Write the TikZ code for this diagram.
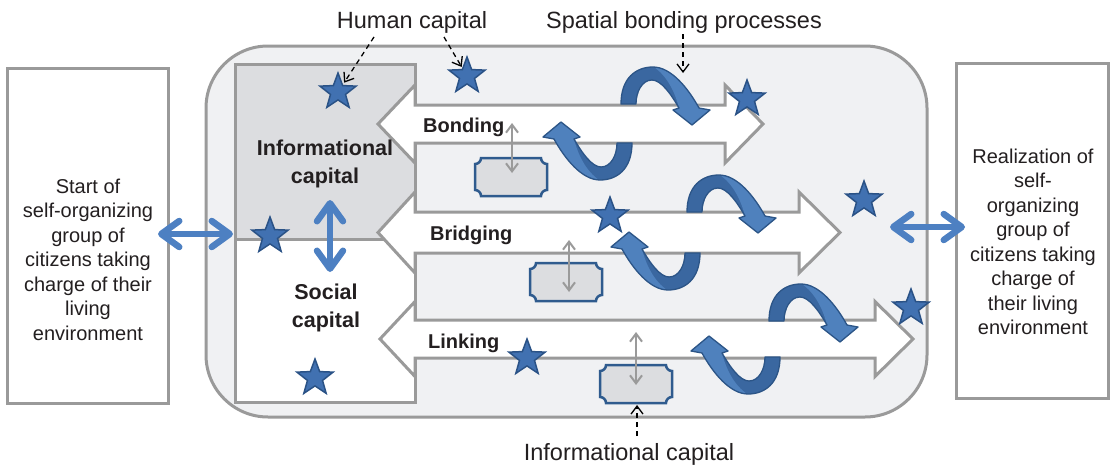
\documentclass[tikz,border=0pt]{standalone}
\usepackage{fontspec}
\setmainfont{Liberation Sans}
\usetikzlibrary{arrows.meta,shapes.geometric}
\definecolor{gline}{HTML}{9A9A9A}
\definecolor{mainfill}{HTML}{F0F1F3}
\definecolor{panelgrey}{HTML}{DCDDE0}
\definecolor{txt}{HTML}{231F20}
\definecolor{starfill}{HTML}{4171B1}
\definecolor{staredge}{HTML}{2A5286}
\definecolor{blueA}{HTML}{4D80C2}
\definecolor{curllight}{HTML}{4F81BD}
\definecolor{curldark}{HTML}{3A67A0}
\definecolor{curledge}{HTML}{2C5587}
\definecolor{plaqueedge}{HTML}{2F5B8E}
\newcommand{\curloutline}{(0,0) .. controls (0,-26) and (15,-37) .. (32,-37) .. controls (50,-37) and (67,-16) .. (78,4) -- (89,6) -- (71,21) -- (52,6) -- (58,4) .. controls (50,-10) and (40,-24) .. (31,-24) .. controls (21,-24) and (15,-12) .. (15,0) -- cycle}
\newcommand{\curlface}{(33,-37) .. controls (50,-37) and (67,-16) .. (78,4) -- (89,6) -- (71,21) -- (52,6) -- (58,4) .. controls (54,-12) and (46,-28) .. (33,-37) -- cycle}
\tikzset{
  curl/.pic={
    \fill[curldark] \curloutline;
    \fill[curllight] \curlface;
    \draw[curledge, line width=1.3pt, line join=round] \curloutline;
  },
  plaque/.pic={
    \path[fill=panelgrey, draw=plaqueedge, line width=2.5pt]
      (6,0) -- (66,0) arc[start angle=180,end angle=90,radius=6]
      -- (72,32) arc[start angle=270,end angle=180,radius=6]
      -- (6,38) arc[start angle=360,end angle=270,radius=6]
      -- (0,6) arc[start angle=90,end angle=0,radius=6] -- cycle;
  }
}
\begin{document}
\begin{tikzpicture}[x=1pt,y=-1pt,
  box/.style={draw=gline, line width=3pt, fill=white},
  blockarrow/.style={draw=gline, line width=3pt, fill=white, line join=miter},
  starnode/.style={star, star points=5, star point ratio=2.4, minimum size=38pt, inner sep=0pt, fill=starfill, draw=staredge, line width=1.5pt},
  bluearrow/.style={draw=blueA, line width=6.5pt, {Straight Barb[length=18pt,width=26pt,round]}-{Straight Barb[length=18pt,width=26pt,round]}},
  greyarrow/.style={draw=gline, line width=2pt, {Straight Barb[length=8pt,width=12pt]}-{Straight Barb[length=8pt,width=12pt]}},
  callout/.style={draw=black, line width=1.3pt, dash pattern=on 5pt off 4pt, -{Straight Barb[length=8pt,width=12pt]}},
  lbl/.style={text=txt, font=\fontsize{23.5}{28}\selectfont, inner sep=0pt, anchor=base},
  boxtext/.style={text=txt, font=\fontsize{20}{24.5}\selectfont, align=center, inner sep=0pt, anchor=base},
  captext/.style={text=txt, font=\bfseries\fontsize{21.5}{27.5}\selectfont, align=center, inner sep=0pt, anchor=base},
  arrowtext/.style={text=txt, font=\bfseries\fontsize{20}{24}\selectfont, inner sep=0pt, anchor=base west}
]
\useasboundingbox (0,0) rectangle (1112,466);
\fill[white] (0,0) rectangle (1112,466);

% main rounded container
\draw[draw=gline, line width=3pt, fill=mainfill, rounded corners=62pt] (206,46) rectangle (927,417);

% side boxes
\node[box, minimum width=161pt, minimum height=335pt, inner sep=0pt] (lbox) at (87.5,235.5) {};
\node[box, minimum width=152pt, minimum height=335pt, inner sep=0pt] (rbox) at (1032,230.5) {};

% capital panel
\fill[panelgrey] (235,64) rectangle (415,239);
\fill[white] (235,239) rectangle (415,402);
\draw[gline, line width=3pt] (235,239) -- (405,239);
\draw[gline, line width=3pt] (235,64) rectangle (415,402);

% block arrows
\draw[blockarrow] (415,85) -- (378,124) -- (415,163) -- (415,143) -- (725,143) -- (725,163) -- (763,124) -- (725,85) -- (725,105) -- (415,105) -- cycle;
\draw[blockarrow] (415,192) -- (378,232.5) -- (415,273) -- (415,253) -- (799,253) -- (799,273) -- (840,232.5) -- (799,192) -- (799,212) -- (415,212) -- cycle;
\draw[blockarrow] (415,301.5) -- (380,339) -- (415,376.5) -- (415,358) -- (875,358) -- (875,376.5) -- (913,339) -- (875,301.5) -- (875,320) -- (415,320) -- cycle;

% plaques (informational capital)
\pic (pl1) at (475,158) {plaque};
\pic (pl2) at (530,263) {plaque};
\pic (pl3) at (600,365) {plaque};
\coordinate (g1a) at (512,123); \coordinate (g1b) at (512,173);
\coordinate (g2a) at (569,240); \coordinate (g2b) at (569,292);
\coordinate (g3a) at (636,332); \coordinate (g3b) at (636,385);
\draw[greyarrow] (g1a) -- (g1b);
\draw[greyarrow] (g2a) -- (g2b);
\draw[greyarrow] (g3a) -- (g3b);

% stars (human capital)
\node[starnode] (s1) at (338,92) {};
\node[starnode] (s2) at (467,76) {};
\node[starnode] (s3) at (270,236) {};
\node[starnode] (s4) at (747,99) {};
\node[starnode] (s5) at (610,216) {};
\node[starnode] (s6) at (864,200) {};
\node[starnode] (s7) at (315,378) {};
\node[starnode] (s8) at (527,358) {};
\node[starnode] (s9) at (911,308) {};

% spatial bonding curls
\pic (c1) at (621,104) {curl};
\pic[rotate=180] (c2) at (632,143) {curl};
\pic (c3) at (687,212) {curl};
\pic[rotate=180] (c4) at (700,253) {curl};
\pic (c5) at (769,321) {curl};
\pic[rotate=180] (c6) at (780,357) {curl};

% blue double arrows
\coordinate (la1) at (158,234); \coordinate (la2) at (233,234);
\coordinate (ra1) at (890,227); \coordinate (ra2) at (965,227);
\coordinate (va1) at (330,200); \coordinate (va2) at (330,272);
\draw[bluearrow] (la1) -- (la2);
\draw[bluearrow] (ra1) -- (ra2);
\draw[bluearrow] (va1) -- (va2);

% texts (multi-line nodes: base = last line)
\node[boxtext] (lt) at (88,340) {Start of\\self-organizing\\group of\\citizens taking\\charge of their\\living\\environment};
\node[boxtext] (rt) at (1033,334.5) {Realization of\\self-\\organizing\\group of\\citizens taking\\charge of\\their living\\environment};
\node[captext] (infcap) at (325,183) {Informational\\capital};
\node[captext] (soccap) at (326,327) {Social\\capital};
\node[arrowtext] (bond) at (423,132) {Bonding};
\node[arrowtext] (bridg) at (430,240) {Bridging};
\node[arrowtext] (link) at (428,348) {Linking};

% callouts
\node[lbl] (hc) at (412,28.5) {Human capital};
\node[lbl] (sbp) at (684,28.5) {Spatial bonding processes};
\node[lbl] (ic) at (629,460) {Informational capital};
\coordinate (hc1) at (374,37); \coordinate (hc2) at (444,37);
\coordinate (sbp1) at (683,34); \coordinate (sbp2) at (683,73);
\coordinate (ic1) at (637,436); \coordinate (pl3s) at (637,405);
\draw[callout, shorten >=2pt] (hc1) -- (s1);
\draw[callout, shorten >=1pt] (hc2) -- (s2);
\draw[callout] (sbp1) -- (sbp2);
\draw[callout] (ic1) -- (pl3s);
\end{tikzpicture}
\end{document}
